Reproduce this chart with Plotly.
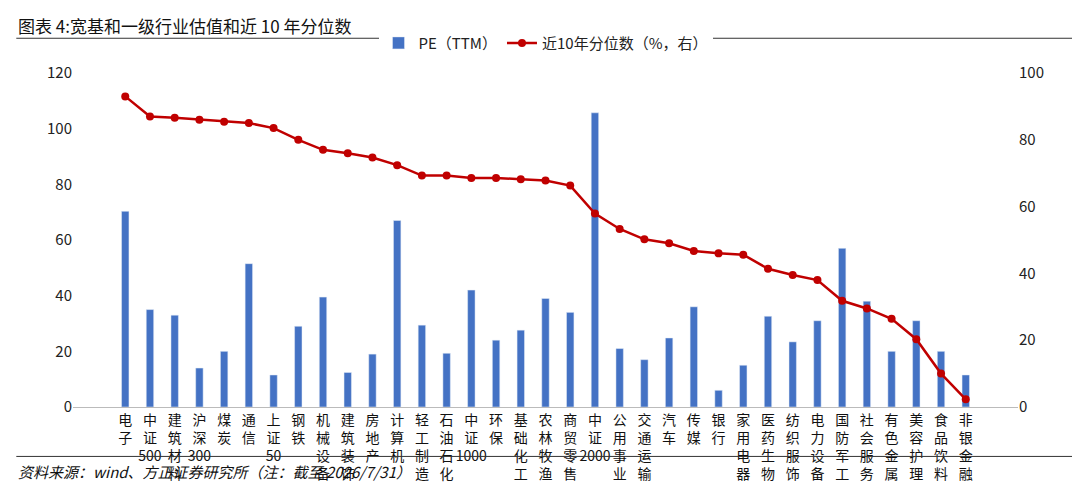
import plotly.graph_objects as go

categories = ["电子", "中证500", "建筑材料", "沪深300", "煤炭", "通信", "上证50", "钢铁", "机械设备", "建筑装饰",
              "房地产", "计算机", "轻工制造", "石油石化", "中证1000", "环保", "基础化工", "农林牧渔", "商贸零售", "中证2000",
              "公用事业", "交通运输", "汽车", "传媒", "银行", "家用电器", "医药生物", "纺织服饰", "电力设备", "国防军工",
              "社会服务", "有色金属", "美容护理", "食品饮料", "非银金融"]
pe_ttm = [70.3, 35, 33, 14, 20, 51.5, 11.5, 29, 39.5, 12.4,
          19, 67, 29.4, 19.3, 42, 24, 27.6, 39, 34, 105.7,
          21, 17, 24.8, 36, 6, 15, 32.6, 23.4, 31, 57,
          38, 20, 31, 20, 11.5]
pct_10y = [93, 87, 86.6, 86, 85.4, 85, 83.5, 80, 77, 76,
           74.7, 72.4, 69.3, 69.3, 68.6, 68.6, 68.2, 67.8, 66.3, 57.9,
           53.3, 50.2, 49, 46.7, 46, 45.6, 41.4, 39.5, 38, 31.8,
           29.5, 26.4, 20.3, 10, 2.3]

# 竖排标签：每个字符一行（数字保持连在一起）
def vlabel(s):
    out, buf = [], ""
    for ch in s:
        if ch.isdigit():
            buf += ch
        else:
            if buf:
                out.append(buf); buf = ""
            out.append(ch)
    if buf:
        out.append(buf)
    return "<br>".join(out)

ticktext = [vlabel(c) for c in categories]

fig = go.Figure()
fig.add_trace(go.Bar(x=categories, y=pe_ttm, name="PE（TTM）", marker_color="#4472C4", width=0.3))
fig.add_trace(go.Scatter(x=categories, y=pct_10y, name="近10年分位数（%，右）", yaxis="y2",
                         mode="lines+markers", line=dict(color="#C00000", width=2.5),
                         marker=dict(size=8, color="#C00000")))

fig.update_layout(
    width=1080, height=487, plot_bgcolor="white", paper_bgcolor="white",
    font=dict(family="Noto Sans CJK SC", size=14, color="#222"),
    margin=dict(l=65, r=70, t=65, b=85),
    legend=dict(orientation="h", x=0.5, xanchor="center", y=1.04, yanchor="bottom", font=dict(size=15)),
    bargap=0.5,
    xaxis=dict(tickmode="array", tickvals=categories, ticktext=ticktext, tickangle=0,
               showline=True, linecolor="#bbb", tickfont=dict(size=14, color="#111")),
    yaxis=dict(range=[0, 120], dtick=20, showgrid=False, zeroline=False, tickfont=dict(size=15)),
    yaxis2=dict(range=[0, 100], dtick=20, overlaying="y", side="right", showgrid=False, tickfont=dict(size=15)),
)

fig.add_annotation(text="图表 4:宽基和一级行业估值和近 10 年分位数", xref="paper", yref="paper",
                   x=-0.06, y=1.0, yshift=62, xanchor="left", yanchor="top", showarrow=False,
                   font=dict(size=17, color="#111"))
fig.add_shape(type="line", xref="paper", yref="paper", x0=-0.06, x1=1.07, y0=1.104, y1=1.104,
              line=dict(color="#333", width=1))
fig.add_shape(type="line", xref="paper", yref="paper", x0=-0.06, x1=1.07, y0=-0.148, y1=-0.148,
              line=dict(color="#333", width=1))
fig.add_annotation(text="<i>资料来源：wind、方正证券研究所（注：截至 2026/7/31）</i>", xref="paper", yref="paper",
                   x=-0.06, y=0, yshift=-52, xanchor="left", yanchor="top", showarrow=False,
                   font=dict(size=15, color="#111"))

fig.write_html("out.html")
